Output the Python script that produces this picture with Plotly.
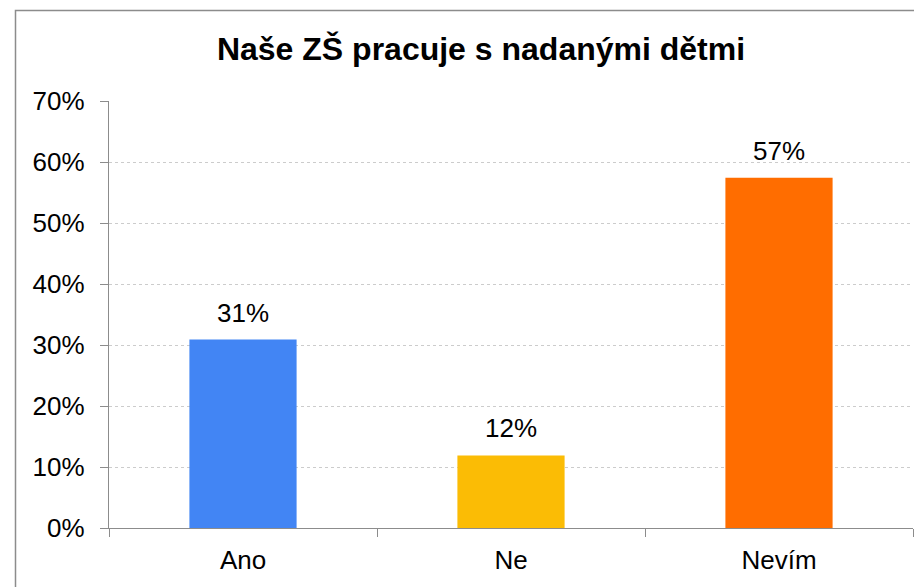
import plotly.graph_objects as go

categories = ["Ano", "Ne", "Nevím"]
values = [0.309, 0.119, 0.574]
labels = ["31%", "12%", "57%"]
colors = ["#4285F4", "#FBBC05", "#FF6D00"]
title_text = "Naše ZŠ pracuje s nadanými dětmi"

# page body has an 8px margin, so positions are offset by 8
OFF = 8
W, H = 922, 587
L, R, T, B = 109 - OFF, 922 - (913 - OFF), 101 - OFF, 587 - (528.5 - OFF)

fig = go.Figure()
fig.add_trace(go.Bar(
    x=categories, y=values, marker=dict(color=colors, line=dict(width=0)),
    width=0.40, hoverinfo="skip", showlegend=False,
))
for c, v, t in zip(categories, values, labels):
    fig.add_annotation(x=c, y=v, text=t, showarrow=False, yanchor="bottom",
                       yshift=10, font=dict(size=26, color="#000000"))

pw = W - L - R
ph = H - T - B
fig.add_shape(type="rect", xref="paper", yref="paper",
              x0=(15.5 - OFF - L) / pw, x1=(W + 20 - L) / pw,
              y0=-(H + 20 - T - ph) / ph, y1=1 + (T - (10.5 - OFF)) / ph,
              line=dict(color="#8c8c8c", width=1.5), layer="below")

fig.update_layout(
    width=W, height=H,
    margin=dict(l=L, r=R, t=T, b=B, autoexpand=False),
    paper_bgcolor="white", plot_bgcolor="white",
    font=dict(family="Liberation Sans, Arial, sans-serif", size=26, color="#000000"),
    title=dict(text="<b>" + title_text + "</b>", x=(481 - OFF) / W, xanchor="center",
               xref="container", yref="container", y=1 - (49 - OFF) / H, yanchor="middle",
               font=dict(size=32, color="#000000")),
    bargap=0.6,
)
fig.update_yaxes(range=[0, 0.7], dtick=0.1, tickformat=".0%", automargin=False,
                 showgrid=True, gridcolor="#cccccc", griddash="dot", gridwidth=1,
                 showline=True, linecolor="#8c8c8c", linewidth=1.3,
                 ticks="outside", ticklen=8, tickcolor="#8c8c8c", tickwidth=1.3,
                 zeroline=False, tickfont=dict(size=26), ticklabelstandoff=10)
fig.update_xaxes(showline=True, linecolor="#8c8c8c", linewidth=1.3, automargin=False,
                 ticks="outside", ticklen=8, tickcolor="#8c8c8c", tickwidth=1.3,
                 tickson="boundaries", tickfont=dict(size=26), showgrid=False,
                 ticklabelstandoff=9)

fig.write_html("out.html")
